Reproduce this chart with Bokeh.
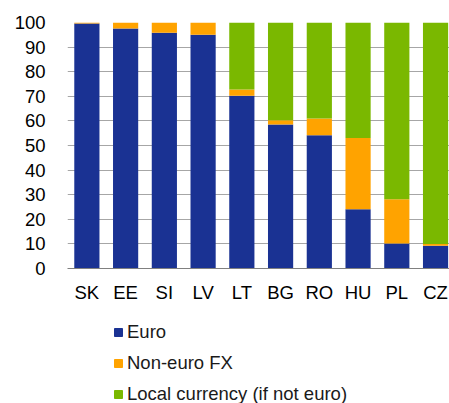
from bokeh.plotting import figure
from bokeh.layouts import column
from bokeh.models import Range1d, Legend, FixedTicker, ColumnDataSource
from bokeh.embed import file_html
from bokeh.resources import INLINE

countries = ["SK", "EE", "SI", "LV", "LT", "BG", "RO", "HU", "PL", "CZ"]
euro = [99.6, 97.6, 95.8, 95.0, 70.2, 58.5, 54.2, 24.1, 10.2, 9.2]
non_euro_fx = [0.4, 2.4, 4.2, 5.0, 2.6, 1.8, 6.8, 28.9, 18.0, 0.8]
local_currency = [0.0, 0.0, 0.0, 0.0, 27.2, 39.7, 39.0, 47.0, 71.8, 90.0]
series_names = ["Euro", "Non-euro FX", "Local currency (if not euro)"]
colors = ["#1a3293", "#ffa300", "#7ab800"]
y_ticks = list(range(0, 101, 10))

x = list(range(len(countries)))
src = ColumnDataSource(dict(x=x, euro=euro, nfx=non_euro_fx, loc=local_currency))

FONT = "Liberation Sans"
FS = "18.5px"

p = figure(width=449, height=305, output_backend="svg", toolbar_location=None,
           x_range=Range1d(-0.5, 9.36), y_range=Range1d(0, 100),
           min_border_left=67, min_border_right=0, min_border_top=22,
           min_border_bottom=37)
p.outline_line_color = None

rs = p.vbar_stack(["euro", "nfx", "loc"], x="x", width=0.65, source=src,
                  color=colors, line_color=None)

p.xgrid.grid_line_color = None
p.ygrid.grid_line_color = "#a6a6a6"
p.ygrid.grid_line_width = 1
p.yaxis.ticker = FixedTicker(ticks=y_ticks)
p.xaxis.ticker = FixedTicker(ticks=x)
p.xaxis.major_label_overrides = {i: c for i, c in enumerate(countries)}

for ax in (p.xaxis[0], p.yaxis[0]):
    ax.major_tick_line_color = None
    ax.minor_tick_line_color = None
    ax.major_label_text_font = FONT
    ax.major_label_text_font_size = FS
    ax.major_label_text_color = "#000000"
p.yaxis.axis_line_color = None
p.xaxis.axis_line_color = "#808080"
p.yaxis.major_label_standoff = 16
p.xaxis.major_label_standoff = 7

# legend panel below the chart (frame aligned with the chart's frame)
p2 = figure(width=449, height=98, output_backend="svg", toolbar_location=None,
            x_range=Range1d(0, 1), y_range=Range1d(0, 1),
            x_axis_location=None, y_axis_location=None,
            min_border=0)
p2.outline_line_color = None
p2.grid.grid_line_color = None
nan = float("nan")
dummy = ColumnDataSource(dict(x=[nan], top=[nan]))
keys = [p2.vbar(x="x", top="top", width=0.1, source=dummy, color=c) for c in colors]

legend = Legend(items=[(n, [r]) for n, r in zip(series_names, keys)],
                location=(46, -2), orientation="vertical",
                label_text_font=FONT, label_text_font_size=FS,
                label_text_color="#1a1a1a",
                glyph_width=10, glyph_height=10, label_height=20,
                spacing=9, padding=0, margin=0, label_standoff=4,
                border_line_color=None, background_fill_alpha=0)
p2.add_layout(legend, "center")

layout = column(p, p2, spacing=0)
open("out.html", "w").write(file_html(layout, INLINE))
